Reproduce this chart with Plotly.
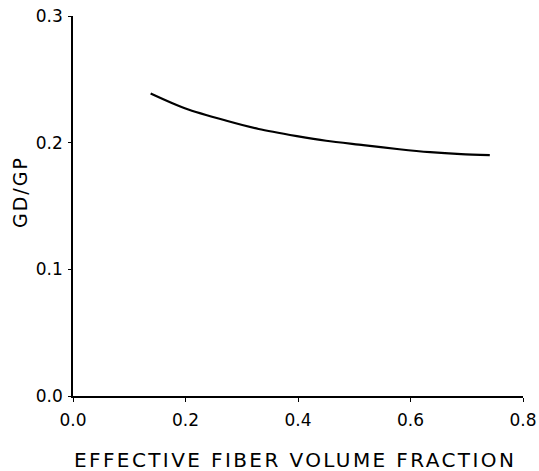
import plotly.graph_objects as go

# Data
fiber_fraction = [0.138, 0.20, 0.273, 0.33, 0.398, 0.45, 0.516, 0.58, 0.635, 0.69, 0.741]
gd_gp = [0.2389, 0.2270, 0.2173, 0.2108, 0.2052, 0.2015, 0.1981, 0.1948, 0.1925, 0.1910, 0.1902]

x_ticks = [0.0, 0.2, 0.4, 0.6, 0.8]
x_tick_labels = ["0.0", "0.2", "0.4", "0.6", "0.8"]
y_ticks = [0.0, 0.1, 0.2, 0.3]
y_tick_labels = ["0.0", "0.1", "0.2", "0.3"]

tick_font = dict(family="DejaVu Sans, sans-serif", size=17, color="black")

fig = go.Figure()
fig.add_trace(go.Scatter(
    x=fiber_fraction, y=gd_gp, mode="lines",
    line=dict(color="black", width=2.2, shape="spline", smoothing=0.8),
    showlegend=False, hoverinfo="skip",
))

fig.update_layout(
    width=539, height=471,
    margin=dict(l=73, r=16, t=16, b=75, autoexpand=False),
    paper_bgcolor="white", plot_bgcolor="white",
    font=dict(family="DejaVu Sans, sans-serif", color="black", size=16),
    xaxis=dict(
        range=[0, 0.8], tickvals=x_ticks, ticktext=x_tick_labels, automargin=False,
        showgrid=False, zeroline=False, showline=True, linecolor="black", linewidth=1.5,
        ticks="outside", ticklen=4, tickcolor="black", tickwidth=1.2,
        tickfont=tick_font, ticklabelstandoff=4,
    ),
    yaxis=dict(
        range=[0, 0.3], tickvals=y_ticks, ticktext=y_tick_labels, automargin=False,
        showgrid=False, zeroline=False, showline=True, linecolor="black", linewidth=1.5,
        ticks="outside", ticklen=3, tickcolor="black", tickwidth=1.2,
        tickfont=tick_font, ticklabelstandoff=2,
    ),
    annotations=[
        dict(text="<span style='letter-spacing:2.4px'>EFFECTIVE FIBER VOLUME FRACTION</span>",
             xref="paper", yref="paper",
             x=0.5, y=0, xanchor="center", yanchor="middle", xshift=-3, yshift=-64,
             showarrow=False, font=dict(size=20, family="DejaVu Sans", color="black")),
        dict(text="<span style='letter-spacing:2px'>GD/GP</span>",
             xref="paper", yref="paper", x=0, y=0.5,
             xanchor="center", yanchor="middle", xshift=-53, yshift=14,
             textangle=-90, showarrow=False,
             font=dict(size=19, family="DejaVu Sans", color="black")),
    ],
)

fig.write_html("out.html")
